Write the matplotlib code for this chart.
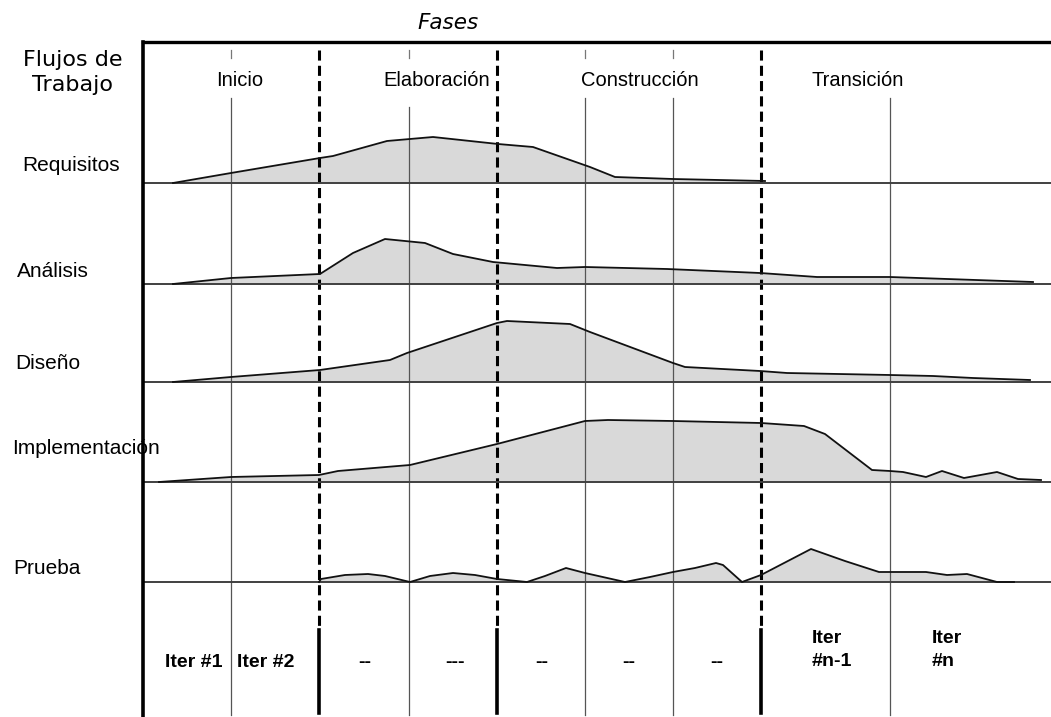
import matplotlib.pyplot as plt

# curve data: x position along the project and height above each row baseline
req_x = [173, 231, 320, 333, 387, 433, 498, 533, 590, 615, 673, 765]
req_h = [0, 10, 25, 27, 42, 46, 39, 36, 16, 6, 4, 2]

ana_x = [173, 231, 320, 353, 385, 425, 453, 493, 557, 585, 667, 760, 817, 890, 1033]
ana_h = [0, 6, 10, 31, 45, 41, 30, 22, 16, 17, 15, 11, 7, 7, 2]

dis_x = [173, 231, 320, 390, 407, 497, 507, 570, 590, 673, 685, 760, 787, 890, 933, 973, 1030]
dis_h = [0, 5, 12, 22, 29, 59, 61, 58, 50, 19, 15, 11, 9, 7, 6, 4, 2]

imp_x = [159, 231, 319, 338, 410, 497, 585, 608, 673, 761, 804, 825, 872, 890, 903,
         926, 942, 964, 997, 1018, 1041]
imp_h = [0, 5, 7, 11, 17, 38, 61, 62, 61, 59, 56, 48, 12, 11, 10, 5, 11, 4, 10, 3, 2]

pru_x = [319, 321, 345, 368, 385, 410, 430, 453, 475, 497, 527, 545, 566, 585, 625,
         650, 673, 695, 716, 723, 742, 761, 811, 845, 879, 926, 947, 967, 997, 1014]
pru_h = [0, 3, 7, 8, 6, 0, 6, 9, 7, 3, 0, 6, 14, 9, 0, 5, 10, 14, 19, 17, 0, 7, 33,
         21, 10, 10, 7, 8, 0, 0]

flows = ["Requisitos", "Análisis", "Diseño", "Implementación", "Prueba"]
phases = ["Inicio", "Elaboración", "Construcción", "Transición"]
iterations = ["Iter #1", "Iter #2", "--", "---", "--", "--", "--"]

# layout
baselines = [183, 284, 382, 482, 582]
label_pos = [(22, 171), (17, 277), (15, 369), (12, 454), (13, 574)]
phase_pos = [240, 437, 640, 858]
iter_pos = [194, 266, 365, 455, 542, 629, 717]
solid_x = [231, 409, 585, 673, 890]
solid_top = [98, 107, 98, 98, 98]
dash_x = [319, 497, 761]
left, top, bottom, right = 143, 42, 717, 1051

fig = plt.figure(figsize=(10.51, 7.17), dpi=100)
ax = fig.add_axes([0, 0, 1, 1])
ax.set_xlim(0, 1051)
ax.set_ylim(717, 0)
ax.axis("off")

# humps
for (xs, hs), base in zip([(req_x, req_h), (ana_x, ana_h), (dis_x, dis_h),
                           (imp_x, imp_h), (pru_x, pru_h)], baselines):
    ys = [base - h for h in hs]
    ax.fill_between(xs, base, ys, color="#d9d9d9", lw=0, zorder=1)
    ax.plot(xs, ys, color="#111111", lw=1.3, zorder=4)

# thin iteration lines
for x, t in zip(solid_x, solid_top):
    if x != 890:
        ax.plot([x, x], [50, 58], color="#777777", lw=0.9, zorder=2)
    ax.plot([x, x], [t, 715], color="#555555", lw=0.9, zorder=2)

# phase boundaries
for x in dash_x:
    ax.plot([x, x], [50, 628], color="black", lw=2.2, dashes=(3.3, 1.7), zorder=3)
    ax.plot([x, x], [630, 713], color="black", lw=2.6, zorder=3)

# baselines and frame
for base in baselines:
    ax.plot([left, right], [base, base], color="#404040", lw=1.4, zorder=3)
ax.plot([left, right], [top, top], color="black", lw=2.4, zorder=5)
ax.plot([left, left], [top, bottom], color="black", lw=2.6, zorder=5)

# texts
ax.text(448, 29, "Fases", fontsize=15.5, style="italic", family="DejaVu Sans",
        ha="center", va="baseline")
ax.text(73, 66, "Flujos de", fontsize=16, family="DejaVu Sans",
        ha="center", va="baseline")
ax.text(73, 91, "Trabajo", fontsize=16, family="DejaVu Sans",
        ha="center", va="baseline")

for name, x in zip(phases, phase_pos):
    ax.text(x, 86, name, fontsize=14.5, family="Liberation Sans",
            ha="center", va="baseline")

for name, (x, y) in zip(flows, label_pos):
    ax.text(x, y, name, fontsize=15, family="Liberation Sans",
            ha="left", va="baseline", zorder=4)

for name, x in zip(iterations, iter_pos):
    ax.text(x, 667, name, fontsize=14, weight="bold", family="Liberation Sans",
            ha="center", va="baseline")
ax.text(812, 643, "Iter", fontsize=14, weight="bold", family="Liberation Sans", va="baseline")
ax.text(812, 666, "#n-1", fontsize=14, weight="bold", family="Liberation Sans", va="baseline")
ax.text(932, 643, "Iter", fontsize=14, weight="bold", family="Liberation Sans", va="baseline")
ax.text(932, 666, "#n", fontsize=14, weight="bold", family="Liberation Sans", va="baseline")

plt.savefig("out.png", dpi=100)
